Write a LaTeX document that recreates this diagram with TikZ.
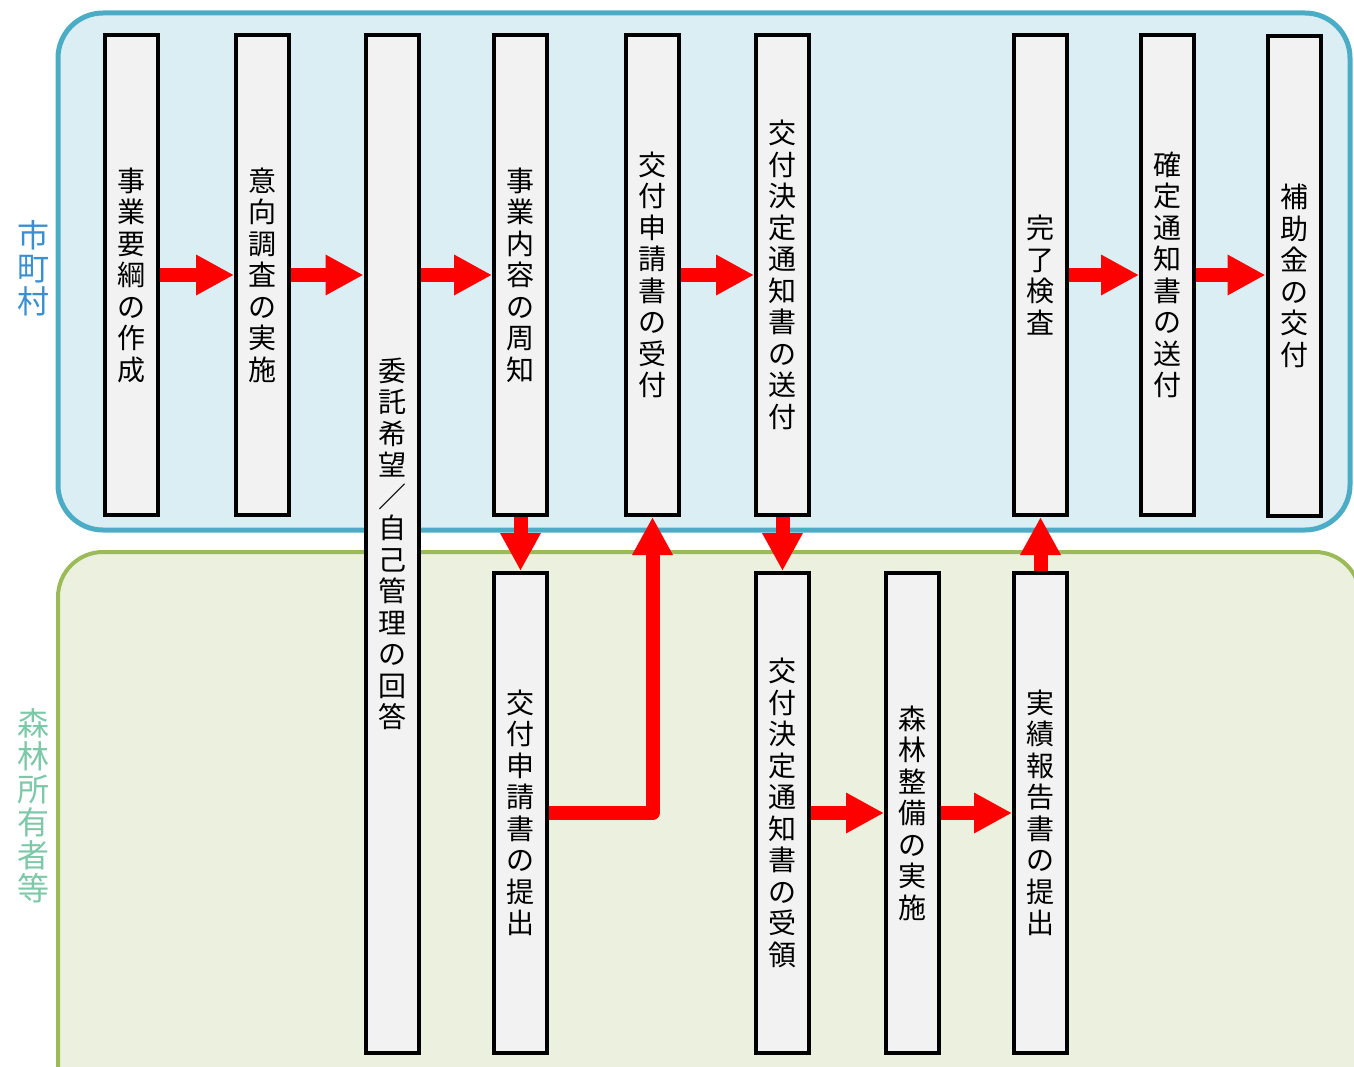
\documentclass[tikz,border=0pt]{standalone}
\usepackage{fontspec}
\newfontfamily\cjk{Noto Sans CJK JP}
\usetikzlibrary{arrows.meta}
\definecolor{bluebd}{HTML}{4BACC6}
\definecolor{bluefill}{HTML}{DBEEF4}
\definecolor{greenbd}{HTML}{9BBB59}
\definecolor{greenfill}{HTML}{EBF1DE}
\definecolor{boxfill}{HTML}{F2F2F2}
\definecolor{lblblue}{HTML}{3A8FD0}
\definecolor{lblgreen}{HTML}{7DC8A8}
\tikzset{
  stepbox/.style={draw=black, line width=4pt, fill=boxfill, minimum width=53pt,
    minimum height=480pt, inner sep=0pt, align=center,
    font=\cjk\fontsize{28}{31.5}\selectfont},
  tallbox/.style={stepbox, minimum height=1018pt},
  arr/.style={draw=red, line width=14pt, -{Triangle[length=38pt,width=38pt]}, line join=round},
  lanelbl/.style={align=center, inner sep=0pt, font=\cjk\fontsize{32}{33}\selectfont}
}
\begin{document}
\begin{tikzpicture}[x=1pt,y=-1pt]
\useasboundingbox (0,0) rectangle (1354,1067);
\clip (0,0) rectangle (1354,1067);
% lanes
\draw[line width=5pt, draw=bluebd, fill=bluefill, rounded corners=45pt] (58,13) rectangle (1350,530);
\draw[line width=4pt, draw=greenbd, fill=greenfill, rounded corners=45pt] (58,552) rectangle (1360,1120);
\node[lanelbl, text=lblblue] (lmc) at (33,268) {市\\町\\村};
\node[lanelbl, text=lblgreen] (lfo) at (33,806) {森\\林\\所\\有\\者\\等};
% top row
\node[stepbox] (n1) at (131.5,275) {事\\業\\要\\綱\\の\\作\\成};
\node[stepbox] (n2) at (262.5,275) {意\\向\\調\\査\\の\\実\\施};
\node[tallbox] (n3) at (392,544) {委\\託\\希\\望\\／\\自\\己\\管\\理\\の\\回\\答};
\node[stepbox] (n4) at (520.5,275) {事\\業\\内\\容\\の\\周\\知};
\node[stepbox] (n5) at (652.5,275) {交\\付\\申\\請\\書\\の\\受\\付};
\node[stepbox] (n6) at (782.5,275) {交\\付\\決\\定\\通\\知\\書\\の\\送\\付};
\node[stepbox] (n7) at (1040.5,275) {完\\了\\検\\査};
\node[stepbox] (n8) at (1167.5,275) {確\\定\\通\\知\\書\\の\\送\\付};
\node[stepbox] (n9) at (1294,276) {補\\助\\金\\の\\交\\付};
% bottom row
\node[stepbox] (n10) at (520.5,813) {交\\付\\申\\請\\書\\の\\提\\出};
\node[stepbox] (n11) at (782.5,813) {交\\付\\決\\定\\通\\知\\書\\の\\受\\領};
\node[stepbox] (n12) at (912.5,813) {森\\林\\整\\備\\の\\実\\施};
\node[stepbox] (n13) at (1040.5,813) {実\\績\\報\\告\\書\\の\\提\\出};
% arrows
\draw[arr] (n1.east) -- (n2.west);
\draw[arr] (n2.east) -- (n2.east -| n3.west);
\draw[arr] (n4.west -| n3.east) -- (n4.west);
\draw[arr] (n5.east) -- (n6.west);
\draw[arr] (n7.east) -- (n8.west);
\draw[arr] (n8.east) -- (n9.west |- n8.east);
\draw[arr] (n4.south) -- (n10.north);
\draw[arr] (n10.east) -| (n5.south);
\draw[arr] (n6.south) -- (n11.north);
\draw[arr] (n11.east) -- (n12.west);
\draw[arr] (n12.east) -- (n13.west);
\draw[arr] (n13.north) -- (n7.south);
\end{tikzpicture}
\end{document}
